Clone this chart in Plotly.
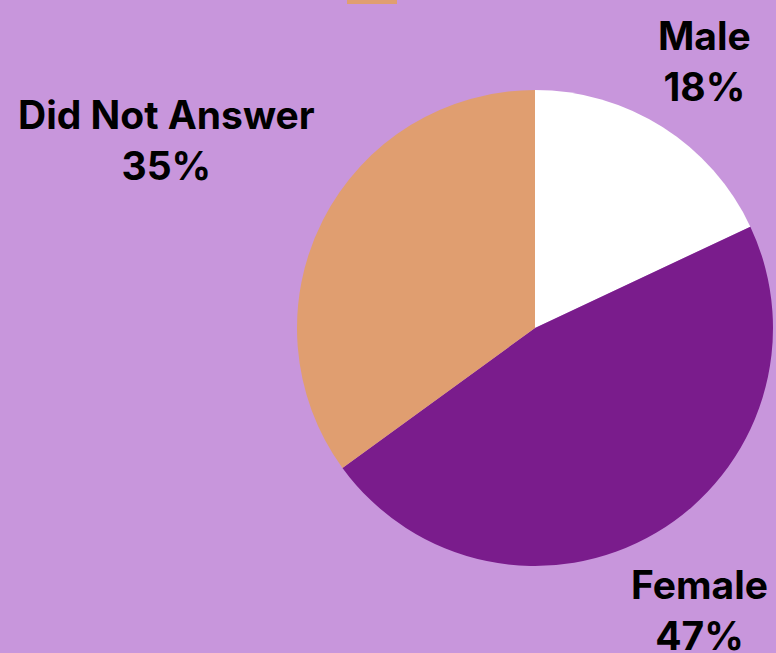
import plotly.graph_objects as go

labels = ["Male", "Female", "Did Not Answer"]
values = [18, 47, 35]
colors = ["#ffffff", "#7a1c8c", "#e09e70"]

# label anchor positions in paper coordinates (layout only)
label_pos = {
    "Male": (0.9085, 0.906),
    "Female": (0.902, 0.066),
    "Did Not Answer": (0.214, 0.786),
}

W, H = 776, 653
fig = go.Figure(go.Pie(
    labels=labels,
    values=values,
    sort=False,
    direction="clockwise",
    rotation=0,
    marker=dict(colors=colors, line=dict(width=0)),
    textinfo="none",
    hoverinfo="label+percent",
    domain=dict(x=[297 / W, 773 / W], y=[1 - 566 / H, 1 - 90 / H]),
    showlegend=False,
))

total = sum(values)
annotations = []
for lab, v in zip(labels, values):
    x, y = label_pos[lab]
    annotations.append(dict(
        x=x, y=y, xref="paper", yref="paper",
        text=f"<b>{lab}</b><br><b>{round(v / total * 100)}%</b>",
        showarrow=False, xanchor="center", yanchor="middle",
        font=dict(family="Inter", size=39, color="#000000"),
        align="center",
    ))

fig.update_layout(
    width=W, height=H,
    margin=dict(l=0, r=0, t=0, b=0),
    paper_bgcolor="#c896dc",
    plot_bgcolor="#c896dc",
    annotations=annotations,
    shapes=[dict(type="rect", xref="paper", yref="paper",
                 x0=347 / W, x1=397 / W, y0=1 - 4 / H, y1=1.0,
                 fillcolor="#e09e70", line=dict(width=0))],
)
fig.write_html("out.html", config={"displayModeBar": False},
               post_script="document.body.style.margin='0';")
